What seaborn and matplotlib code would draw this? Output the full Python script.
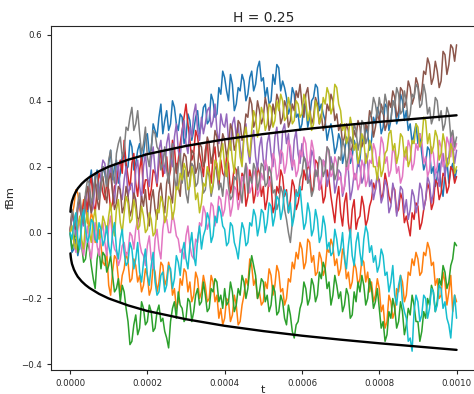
import numpy as np
import pandas as pd
import matplotlib
matplotlib.use("Agg")
import matplotlib.pyplot as plt
import seaborn as sns

# ten fBm paths, 201 samples each over t = 0 .. 0.001
blue = [0, -0.06, -0.05, -0.02, -0.07, -0.04, 0.02, 0.07, 0.08, 0.04, 0.15, 0.19, 0.12, 0.16, 0.19, 0.13, 0.14, 0.20, 0.18, 0.14,
        0.21, 0.25, 0.16, 0.20, 0.22, 0.15, 0.18, 0.23, 0.25, 0.19, 0.20, 0.28, 0.26, 0.19, 0.21, 0.25, 0.27, 0.21, 0.24, 0.29,
        0.30, 0.24, 0.25, 0.33, 0.31, 0.29, 0.35, 0.39, 0.30, 0.34, 0.37, 0.31, 0.33, 0.40, 0.38, 0.33, 0.31, 0.36, 0.35, 0.27,
        0.29, 0.36, 0.34, 0.28, 0.31, 0.35, 0.37, 0.30, 0.33, 0.38, 0.39, 0.33, 0.34, 0.42, 0.40, 0.35, 0.36, 0.44, 0.42, 0.49,
        0.47, 0.43, 0.40, 0.48, 0.45, 0.37, 0.39, 0.44, 0.43, 0.48, 0.46, 0.40, 0.42, 0.47, 0.49, 0.43, 0.45, 0.50, 0.52, 0.46,
        0.47, 0.41, 0.44, 0.39, 0.40, 0.48, 0.45, 0.51, 0.50, 0.43, 0.46, 0.44, 0.41, 0.36, 0.38, 0.44, 0.42, 0.35, 0.36, 0.31,
        0.33, 0.39, 0.38, 0.32, 0.35, 0.40, 0.41, 0.45, 0.44, 0.37, 0.39, 0.36, 0.34, 0.28, 0.31, 0.33, 0.29, 0.24, 0.26, 0.30,
        0.28, 0.21, 0.24, 0.29, 0.27, 0.21, 0.23, 0.28, 0.26, 0.20, 0.22, 0.29, 0.27, 0.32, 0.30, 0.25, 0.28, 0.35, 0.33, 0.38,
        0.36, 0.30, 0.32, 0.39, 0.38, 0.31, 0.34, 0.40, 0.39, 0.33, 0.35, 0.42, 0.40, 0.34, 0.37, 0.31, 0.33, 0.27, 0.30, 0.33,
        0.27, 0.30, 0.24, 0.19, 0.21, 0.26, 0.25, 0.18, 0.20, 0.14, 0.17, 0.21, 0.14, 0.11, 0.18, 0.22, 0.15, 0.19, 0.21, 0.16,
        0.19]

orange = [0, 0.05, 0.08, 0.13, 0.12, 0.07, 0.05, 0.10, 0.09, 0.03, 0.02, 0.06, 0.04, -0.03, -0.02, 0.01, -0.04, -0.09, -0.10, -0.06,
          -0.16, -0.19, -0.12, -0.07, -0.08, -0.14, -0.18, -0.13, -0.11, -0.06, -0.09, -0.15, -0.14, -0.08, -0.10, -0.15, -0.13, -0.18, -0.16, -0.11,
          -0.13, -0.19, -0.17, -0.10, -0.12, -0.18, -0.15, -0.09, -0.10, -0.16, -0.14, -0.09, -0.12, -0.19, -0.17, -0.23, -0.21, -0.14, -0.16, -0.11,
          -0.12, -0.18, -0.15, -0.21, -0.19, -0.12, -0.14, -0.20, -0.18, -0.13, -0.16, -0.21, -0.20, -0.13, -0.15, -0.21, -0.19, -0.26, -0.23, -0.28,
          -0.26, -0.20, -0.21, -0.27, -0.25, -0.19, -0.22, -0.28, -0.27, -0.22, -0.19, -0.14, -0.16, -0.08, -0.10, -0.16, -0.14, -0.20, -0.18, -0.22,
          -0.21, -0.15, -0.17, -0.11, -0.13, -0.19, -0.16, -0.10, -0.12, -0.18, -0.17, -0.22, -0.20, -0.14, -0.15, -0.09, -0.11, -0.06, -0.08, -0.03,
          -0.05, -0.11, -0.09, -0.02, -0.03, -0.09, -0.07, -0.13, -0.12, -0.06, -0.08, -0.13, -0.11, -0.05, -0.06, -0.02, -0.04, -0.10, -0.08, -0.13,
          -0.11, -0.05, -0.07, -0.14, -0.12, -0.17, -0.15, -0.09, -0.11, -0.16, -0.14, -0.08, -0.09, -0.15, -0.12, -0.18, -0.15, -0.21, -0.19, -0.14,
          -0.17, -0.24, -0.22, -0.29, -0.27, -0.19, -0.21, -0.26, -0.24, -0.17, -0.18, -0.13, -0.15, -0.21, -0.19, -0.12, -0.13, -0.08, -0.10, -0.06,
          -0.08, -0.13, -0.12, -0.06, -0.07, -0.03, -0.05, -0.10, -0.09, -0.16, -0.14, -0.20, -0.19, -0.12, -0.15, -0.22, -0.18, -0.13, -0.24, -0.19,
          -0.21]

green = [0, -0.05, -0.03, 0.01, -0.06, -0.02, -0.04, -0.09, -0.08, -0.03, -0.05, -0.10, -0.14, -0.17, -0.08, -0.05, -0.11, -0.06, -0.07, -0.12,
         -0.10, -0.07, -0.13, -0.18, -0.17, -0.14, -0.21, -0.16, -0.18, -0.23, -0.27, -0.34, -0.33, -0.28, -0.25, -0.31, -0.29, -0.21, -0.23, -0.28,
         -0.27, -0.22, -0.24, -0.30, -0.29, -0.24, -0.22, -0.27, -0.26, -0.30, -0.32, -0.35, -0.27, -0.23, -0.21, -0.26, -0.18, -0.22, -0.23, -0.27,
         -0.26, -0.20, -0.21, -0.27, -0.24, -0.19, -0.17, -0.22, -0.21, -0.15, -0.19, -0.24, -0.23, -0.17, -0.18, -0.14, -0.15, -0.21, -0.19, -0.23,
         -0.17, -0.22, -0.21, -0.15, -0.18, -0.24, -0.22, -0.17, -0.19, -0.13, -0.15, -0.20, -0.17, -0.11, -0.07, -0.10, -0.13, -0.20, -0.18, -0.14,
         -0.15, -0.21, -0.19, -0.24, -0.22, -0.16, -0.18, -0.25, -0.24, -0.19, -0.21, -0.26, -0.28, -0.22, -0.25, -0.30, -0.32, -0.28, -0.27, -0.23,
         -0.21, -0.15, -0.17, -0.22, -0.20, -0.14, -0.16, -0.21, -0.19, -0.12, -0.14, -0.09, -0.11, -0.17, -0.15, -0.22, -0.19, -0.13, -0.16, -0.20,
         -0.18, -0.24, -0.22, -0.17, -0.19, -0.26, -0.25, -0.18, -0.21, -0.15, -0.18, -0.13, -0.16, -0.22, -0.20, -0.14, -0.17, -0.23, -0.21, -0.17,
         -0.23, -0.29, -0.27, -0.33, -0.31, -0.24, -0.26, -0.20, -0.23, -0.29, -0.27, -0.21, -0.24, -0.31, -0.28, -0.23, -0.25, -0.19, -0.22, -0.27,
         -0.27, -0.33, -0.30, -0.24, -0.26, -0.20, -0.22, -0.16, -0.18, -0.24, -0.21, -0.14, -0.16, -0.10, -0.12, -0.17, -0.15, -0.10, -0.08, -0.03,
         -0.04]

red = [0, 0.06, 0.04, 0.01, 0.08, 0.10, 0.05, 0.09, 0.11, 0.07, 0.14, 0.17, 0.09, 0.06, 0.13, 0.18, 0.16, 0.12, 0.10, 0.15,
       0.13, 0.07, 0.09, 0.14, 0.15, 0.20, 0.22, 0.18, 0.28, 0.21, 0.17, 0.13, 0.21, 0.24, 0.15, 0.11, 0.19, 0.23, 0.12, 0.16,
       0.16, 0.10, 0.13, 0.19, 0.18, 0.14, 0.21, 0.25, 0.17, 0.20, 0.23, 0.16, 0.19, 0.28, 0.26, 0.18, 0.22, 0.27, 0.31, 0.35,
       0.39, 0.33, 0.28, 0.22, 0.24, 0.31, 0.29, 0.24, 0.21, 0.17, 0.25, 0.28, 0.19, 0.15, 0.23, 0.26, 0.18, 0.14, 0.22, 0.18,
       0.17, 0.23, 0.21, 0.12, 0.15, 0.20, 0.19, 0.10, 0.13, 0.18, 0.17, 0.08, 0.11, 0.19, 0.16, 0.09, 0.12, 0.20, 0.18, 0.11,
       0.14, 0.07, 0.10, 0.17, 0.15, 0.06, 0.08, 0.14, 0.12, 0.19, 0.17, 0.11, 0.13, 0.06, 0.10, 0.16, 0.14, 0.07, 0.09, 0.13,
       0.13, 0.19, 0.16, 0.21, 0.19, 0.12, 0.14, 0.22, 0.21, 0.13, 0.15, 0.09, 0.11, 0.19, 0.16, 0.11, 0.07, 0.03, 0.10, 0.14,
       0.06, 0.02, 0.09, 0.12, 0.03, -0.01, 0.07, 0.10, 0.01, 0.04, 0.05, 0.11, 0.08, 0.02, 0.04, 0.08, 0.10, 0.15, 0.13, 0.17,
       0.16, 0.10, 0.12, 0.18, 0.15, 0.11, 0.09, 0.14, 0.13, 0.06, 0.07, 0.12, 0.10, 0.03, 0.05, 0.02, -0.01, 0.06, 0.04, 0.09,
       0.08, 0.01, 0.03, 0.07, 0.10, 0.15, 0.13, 0.07, 0.09, 0.16, 0.15, 0.10, 0.12, 0.18, 0.17, 0.12, 0.14, 0.20, 0.19, 0.15,
       0.17]

purple = [0, 0.05, 0.03, -0.01, 0.07, 0.09, 0.04, 0.02, 0.09, 0.13, 0.12, 0.06, 0.08, 0.15, 0.14, 0.10, 0.18, 0.22, 0.21, 0.15,
          0.17, 0.20, 0.13, 0.09, 0.18, 0.21, 0.12, 0.10, 0.16, 0.20, 0.11, 0.14, 0.15, 0.09, 0.19, 0.22, 0.14, 0.10, 0.20, 0.24,
          0.17, 0.14, 0.22, 0.26, 0.19, 0.15, 0.25, 0.28, 0.21, 0.18, 0.27, 0.30, 0.23, 0.20, 0.29, 0.33, 0.25, 0.22, 0.31, 0.34,
          0.27, 0.24, 0.32, 0.29, 0.36, 0.39, 0.31, 0.28, 0.35, 0.30, 0.33, 0.37, 0.38, 0.32, 0.34, 0.39, 0.31, 0.27, 0.36, 0.33,
          0.32, 0.36, 0.28, 0.25, 0.33, 0.35, 0.29, 0.33, 0.26, 0.22, 0.30, 0.33, 0.25, 0.21, 0.28, 0.31, 0.23, 0.19, 0.26, 0.29,
          0.22, 0.19, 0.27, 0.30, 0.24, 0.20, 0.29, 0.32, 0.25, 0.21, 0.31, 0.33, 0.27, 0.30, 0.23, 0.19, 0.28, 0.31, 0.24, 0.21,
          0.27, 0.23, 0.22, 0.15, 0.18, 0.25, 0.23, 0.17, 0.19, 0.13, 0.16, 0.22, 0.21, 0.14, 0.17, 0.23, 0.20, 0.12, 0.15, 0.19,
          0.18, 0.11, 0.14, 0.20, 0.19, 0.10, 0.13, 0.18, 0.16, 0.22, 0.20, 0.15, 0.17, 0.24, 0.21, 0.14, 0.16, 0.10, 0.13, 0.18,
          0.15, 0.09, 0.11, 0.16, 0.14, 0.06, 0.08, 0.15, 0.12, 0.05, 0.09, 0.14, 0.13, 0.06, 0.10, 0.04, 0.07, 0.13, 0.11, 0.06,
          0.09, 0.15, 0.13, 0.07, 0.10, 0.17, 0.15, 0.09, 0.12, 0.19, 0.18, 0.14, 0.21, 0.24, 0.17, 0.22, 0.23, 0.29, 0.27, 0.21,
          0.25]

brown = [0, 0.06, 0.04, 0.01, 0.08, 0.10, 0.05, 0.03, 0.11, 0.14, 0.09, 0.06, 0.13, 0.16, 0.10, 0.07, 0.15, 0.17, 0.12, 0.09,
         0.16, 0.18, 0.12, 0.07, 0.09, 0.14, 0.13, 0.06, 0.08, 0.14, 0.11, 0.05, 0.07, 0.12, 0.10, 0.03, 0.05, 0.11, 0.08, 0.13,
         0.06, 0.02, 0.10, 0.13, 0.07, 0.04, 0.12, 0.15, 0.09, 0.06, 0.15, 0.18, 0.12, 0.09, 0.18, 0.21, 0.14, 0.11, 0.20, 0.24,
         0.23, 0.17, 0.19, 0.25, 0.24, 0.18, 0.20, 0.27, 0.26, 0.20, 0.22, 0.29, 0.27, 0.21, 0.24, 0.31, 0.29, 0.23, 0.25, 0.30,
         0.28, 0.23, 0.26, 0.33, 0.31, 0.25, 0.27, 0.34, 0.33, 0.28, 0.30, 0.36, 0.35, 0.41, 0.39, 0.32, 0.34, 0.40, 0.37, 0.33,
         0.35, 0.41, 0.38, 0.31, 0.33, 0.39, 0.36, 0.42, 0.40, 0.33, 0.35, 0.40, 0.38, 0.32, 0.34, 0.39, 0.37, 0.43, 0.41, 0.45,
         0.39, 0.35, 0.42, 0.44, 0.38, 0.33, 0.35, 0.41, 0.39, 0.33, 0.36, 0.31, 0.33, 0.39, 0.37, 0.42, 0.40, 0.34, 0.36, 0.31,
         0.33, 0.27, 0.29, 0.33, 0.31, 0.24, 0.26, 0.31, 0.29, 0.34, 0.32, 0.26, 0.28, 0.33, 0.31, 0.37, 0.35, 0.29, 0.32, 0.36,
         0.34, 0.39, 0.37, 0.31, 0.33, 0.40, 0.38, 0.43, 0.41, 0.35, 0.37, 0.44, 0.43, 0.38, 0.40, 0.46, 0.44, 0.39, 0.41, 0.47,
         0.45, 0.40, 0.43, 0.49, 0.48, 0.53, 0.51, 0.45, 0.47, 0.52, 0.49, 0.44, 0.46, 0.55, 0.54, 0.48, 0.51, 0.57, 0.56, 0.52,
         0.57]

pink = [0, 0.02, -0.03, -0.06, 0.01, 0.04, -0.04, -0.07, -0.02, 0.02, -0.05, -0.08, -0.01, 0.03, -0.04, -0.07, 0.00, 0.03, -0.03, -0.07,
        0.02, 0.05, -0.02, -0.05, -0.06, -0.10, -0.08, -0.04, -0.03, -0.07, -0.06, 0.00, -0.01, -0.05, 0.01, 0.04, -0.03, -0.06, -0.07, -0.10,
        -0.04, -0.01, -0.08, -0.11, -0.02, 0.01, -0.05, -0.08, 0.01, 0.05, 0.04, 0.00, 0.00, 0.06, 0.03, -0.01, -0.02, -0.06, -0.05, -0.08,
        -0.01, 0.02, -0.04, -0.07, -0.08, -0.02, -0.03, 0.03, 0.02, 0.08, 0.06, 0.01, 0.03, 0.09, 0.08, 0.02, 0.05, 0.11, 0.10, 0.05,
        0.07, 0.13, 0.11, 0.05, 0.08, 0.14, 0.13, 0.07, 0.10, 0.17, 0.15, 0.21, 0.19, 0.12, 0.14, 0.19, 0.17, 0.11, 0.13, 0.18,
        0.16, 0.22, 0.20, 0.14, 0.17, 0.24, 0.22, 0.16, 0.18, 0.25, 0.24, 0.18, 0.21, 0.28, 0.26, 0.20, 0.22, 0.17, 0.19, 0.25,
        0.23, 0.29, 0.27, 0.20, 0.22, 0.28, 0.25, 0.18, 0.19, 0.13, 0.15, 0.22, 0.20, 0.26, 0.24, 0.17, 0.18, 0.23, 0.21, 0.16,
        0.17, 0.12, 0.14, 0.21, 0.19, 0.25, 0.23, 0.16, 0.18, 0.13, 0.15, 0.22, 0.20, 0.14, 0.16, 0.22, 0.21, 0.27, 0.25, 0.20,
        0.22, 0.29, 0.27, 0.21, 0.23, 0.17, 0.19, 0.26, 0.24, 0.18, 0.20, 0.15, 0.17, 0.24, 0.22, 0.28, 0.26, 0.19, 0.21, 0.27,
        0.25, 0.30, 0.28, 0.21, 0.23, 0.17, 0.19, 0.26, 0.24, 0.18, 0.20, 0.28, 0.26, 0.20, 0.22, 0.29, 0.27, 0.23, 0.30, 0.25,
        0.27]

gray = [0, 0.07, 0.05, 0.02, 0.09, 0.12, 0.06, 0.03, 0.12, 0.16, 0.15, 0.09, 0.11, 0.18, 0.17, 0.10, 0.13, 0.20, 0.19, 0.14,
        0.22, 0.25, 0.18, 0.15, 0.24, 0.27, 0.29, 0.23, 0.25, 0.32, 0.31, 0.35, 0.38, 0.31, 0.33, 0.37, 0.30, 0.24, 0.27, 0.32,
        0.23, 0.20, 0.26, 0.31, 0.30, 0.26, 0.25, 0.19, 0.21, 0.26, 0.19, 0.15, 0.23, 0.27, 0.17, 0.13, 0.20, 0.24, 0.15, 0.19,
        0.12, 0.09, 0.16, 0.21, 0.20, 0.14, 0.15, 0.21, 0.18, 0.12, 0.13, 0.19, 0.17, 0.11, 0.14, 0.20, 0.19, 0.13, 0.15, 0.11,
        0.18, 0.21, 0.14, 0.10, 0.11, 0.17, 0.16, 0.20, 0.13, 0.09, 0.17, 0.21, 0.12, 0.17, 0.15, 0.21, 0.19, 0.13, 0.16, 0.21,
        0.20, 0.14, 0.15, 0.20, 0.18, 0.12, 0.13, 0.07, 0.09, 0.14, 0.12, 0.07, 0.04, 0.00, -0.03, 0.03, 0.06, 0.13, 0.11, 0.16,
        0.18, 0.23, 0.21, 0.15, 0.16, 0.11, 0.13, 0.19, 0.17, 0.23, 0.22, 0.17, 0.19, 0.26, 0.25, 0.19, 0.21, 0.16, 0.18, 0.23,
        0.22, 0.28, 0.26, 0.20, 0.23, 0.29, 0.27, 0.33, 0.31, 0.25, 0.28, 0.34, 0.33, 0.27, 0.29, 0.35, 0.36, 0.41, 0.39, 0.35,
        0.41, 0.37, 0.36, 0.42, 0.39, 0.33, 0.34, 0.40, 0.38, 0.44, 0.42, 0.36, 0.37, 0.43, 0.40, 0.34, 0.36, 0.42, 0.41, 0.45,
        0.44, 0.38, 0.39, 0.45, 0.42, 0.36, 0.38, 0.33, 0.35, 0.41, 0.40, 0.34, 0.37, 0.31, 0.33, 0.38, 0.36, 0.29, 0.31, 0.26,
        0.29]

olive = [0, 0.02, -0.03, -0.05, 0.02, 0.05, -0.02, -0.05, 0.03, 0.06, 0.00, -0.03, 0.04, 0.07, 0.01, -0.02, -0.01, 0.05, 0.03, 0.00,
         0.05, 0.09, 0.02, -0.01, 0.07, 0.10, 0.03, 0.00, 0.06, 0.11, 0.09, 0.03, 0.04, 0.10, 0.07, 0.01, 0.02, 0.08, 0.05, 0.00,
         0.01, 0.06, 0.04, -0.01, 0.00, 0.07, 0.06, 0.11, 0.09, 0.03, 0.05, 0.11, 0.10, 0.04, 0.07, 0.14, 0.13, 0.18, 0.16, 0.21,
         0.19, 0.13, 0.14, 0.20, 0.17, 0.10, 0.12, 0.06, 0.09, 0.15, 0.14, 0.20, 0.18, 0.12, 0.15, 0.22, 0.21, 0.16, 0.24, 0.27,
         0.20, 0.17, 0.25, 0.28, 0.22, 0.18, 0.27, 0.30, 0.23, 0.20, 0.29, 0.32, 0.26, 0.23, 0.31, 0.37, 0.35, 0.29, 0.32, 0.38,
         0.36, 0.31, 0.33, 0.39, 0.38, 0.32, 0.34, 0.40, 0.37, 0.42, 0.40, 0.34, 0.35, 0.41, 0.38, 0.33, 0.34, 0.40, 0.39, 0.35,
         0.36, 0.42, 0.40, 0.34, 0.37, 0.31, 0.33, 0.40, 0.38, 0.33, 0.35, 0.41, 0.39, 0.44, 0.42, 0.36, 0.38, 0.45, 0.44, 0.39,
         0.37, 0.31, 0.33, 0.27, 0.29, 0.35, 0.32, 0.25, 0.27, 0.21, 0.24, 0.30, 0.28, 0.21, 0.23, 0.28, 0.26, 0.20, 0.20, 0.16,
         0.23, 0.17, 0.19, 0.24, 0.25, 0.30, 0.31, 0.25, 0.27, 0.21, 0.24, 0.30, 0.29, 0.23, 0.26, 0.20, 0.22, 0.28, 0.27, 0.33,
         0.32, 0.26, 0.28, 0.35, 0.34, 0.27, 0.30, 0.24, 0.26, 0.31, 0.29, 0.22, 0.24, 0.30, 0.27, 0.20, 0.21, 0.27, 0.25, 0.18,
         0.20]

cyan = [0, -0.02, 0.03, 0.06, -0.02, -0.05, 0.04, 0.07, 0.01, -0.03, -0.01, 0.04, 0.03, -0.02, -0.03, 0.03, 0.01, -0.04, -0.02, 0.02,
        -0.04, -0.07, 0.00, 0.03, -0.05, -0.08, -0.02, 0.01, -0.06, -0.10, -0.09, -0.03, -0.05, -0.11, -0.08, -0.03, -0.12, -0.15, -0.09, -0.05,
        -0.13, -0.16, -0.10, -0.06, -0.15, -0.19, -0.18, -0.13, -0.12, -0.18, -0.16, -0.10, -0.11, -0.17, -0.14, -0.07, -0.09, -0.13, -0.06, -0.03,
        -0.08, -0.11, -0.04, 0.00, -0.07, -0.10, -0.02, 0.02, -0.05, -0.01, 0.01, 0.06, 0.04, -0.03, -0.01, 0.05, 0.03, 0.08, 0.06, 0.02,
        0.01, -0.04, -0.03, 0.03, 0.02, -0.03, -0.05, -0.08, -0.02, 0.03, 0.01, -0.04, -0.03, 0.03, 0.02, 0.07, 0.05, -0.01, 0.02, 0.07,
        0.06, 0.00, 0.03, 0.09, 0.08, 0.02, 0.05, 0.11, 0.10, 0.04, 0.07, 0.13, 0.12, 0.06, 0.09, 0.02, 0.05, 0.12, 0.11, 0.14,
        0.07, 0.01, 0.03, 0.09, 0.06, -0.01, 0.01, 0.07, 0.04, -0.03, -0.01, 0.05, 0.02, -0.05, -0.03, -0.07, -0.06, 0.01, -0.02, -0.07,
        -0.05, 0.00, -0.08, -0.11, -0.04, 0.01, -0.07, -0.10, -0.03, 0.00, -0.06, -0.10, -0.02, 0.02, 0.00, -0.06, -0.04, -0.09, -0.07, -0.12,
        -0.10, -0.05, -0.07, -0.13, -0.12, -0.18, -0.15, -0.10, -0.19, -0.22, -0.16, -0.13, -0.21, -0.24, -0.26, -0.33, -0.32, -0.36, -0.24, -0.19,
        -0.21, -0.27, -0.25, -0.19, -0.20, -0.26, -0.23, -0.17, -0.18, -0.24, -0.22, -0.16, -0.17, -0.23, -0.21, -0.26, -0.28, -0.32, -0.24, -0.19,
        -0.26]

paths = [blue, orange, green, red, purple, brown, pink, gray, olive, cyan]

# envelope (upper branch; lower one is its mirror)
env_t = [1e-6, 2e-6, 3e-6, 5e-6, 1e-5, 1.5e-5, 2e-5, 3e-5, 4e-5, 5e-5, 7.5e-5,
         1e-4, 1.5e-4, 2e-4, 3e-4, 4e-4, 5e-4, 6e-4, 7e-4, 8e-4, 9e-4, 1e-3]
env_up = [0.063, 0.075, 0.083, 0.095, 0.112, 0.124, 0.134, 0.148, 0.159, 0.168, 0.186,
          0.200, 0.221, 0.238, 0.263, 0.283, 0.299, 0.313, 0.325, 0.336, 0.346, 0.356]

df = pd.concat([pd.DataFrame({"t": np.linspace(0, 0.001, len(p)), "fBm": p, "path": i})
                for i, p in enumerate(paths)], ignore_index=True)

sns.set_style("ticks")
fig = plt.figure(figsize=(4.74, 3.94), dpi=100)
ax = fig.add_axes([0.107, 0.061, 0.897, 0.873])

sns.lineplot(data=df, x="t", y="fBm", hue="path", palette="tab10",
             legend=False, linewidth=1.1, ax=ax)
ax.plot(env_t, env_up, color="black", lw=1.7)
ax.plot(env_t, [-v for v in env_up], color="black", lw=1.7)

ax.set_xlim(-0.00005, 0.00105)
ax.set_ylim(-0.417, 0.627)
ax.set_xticks([0, 0.0002, 0.0004, 0.0006, 0.0008, 0.001])
ax.set_xticklabels(["0.0000", "0.0002", "0.0004", "0.0006", "0.0008", "0.0010"])
ax.set_yticks([-0.4, -0.2, 0.0, 0.2, 0.4, 0.6])
ax.set_yticklabels(["\u22120.4", "\u22120.2", "0.0", "0.2", "0.4", "0.6"])
ax.tick_params(labelsize=6.2, length=3, width=0.8)
ax.set_title("H = 0.25", fontsize=10, pad=3)
ax.set_xlabel("t", fontsize=8, labelpad=-2)
ax.set_ylabel("fBm", fontsize=8.2)

fig.savefig("out.png", dpi=100)
